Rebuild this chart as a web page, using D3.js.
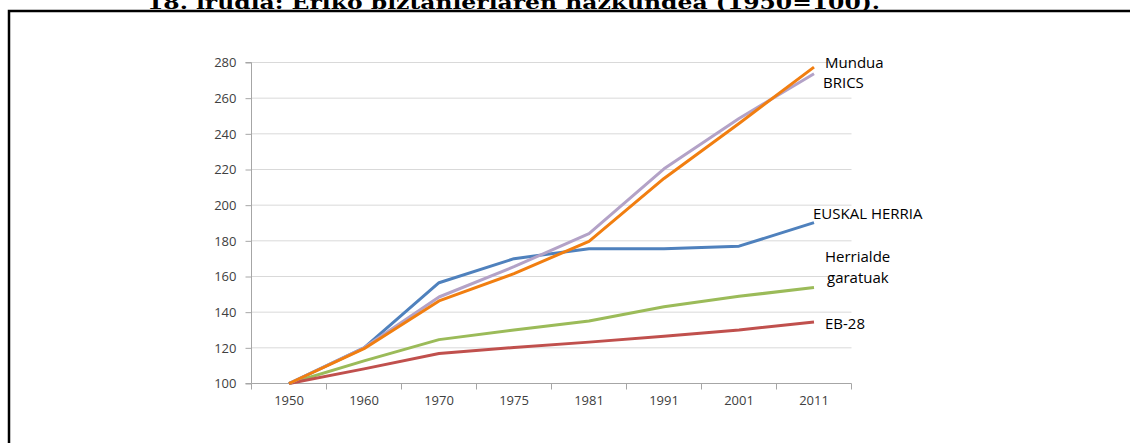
<!DOCTYPE html>
<html><head><meta charset="utf-8">
<script src="https://cdn.jsdelivr.net/npm/d3@7"></script>
<style>html,body{margin:0;padding:0;background:#fff;overflow:hidden}</style>
</head><body>
<svg id="c" width="1130" height="443"></svg>
<script>
const categories = ["1950","1960","1970","1975","1981","1991","2001","2011"];
const euskalHerria = [100,120,156.5,170,175.6,175.6,177,190.2];
const mundua       = [100,119.5,146.3,161.6,179.7,215,245.8,277.4];
const brics        = [100,120,148.5,165.5,184,220.4,248.6,273.7];
const garatuak     = [100,112.7,124.6,130,135,143,148.9,153.8];
const eb28         = [100,108.2,116.8,120.2,123.2,126.5,130,134.5];
const yTicks = [100,120,140,160,180,200,220,240,260,280];

const series = [
  {name:"Herrialde garatuak", values:garatuak, color:"#9BBB59"},
  {name:"EB-28", values:eb28, color:"#C0504D"},
  {name:"EUSKAL HERRIA", values:euskalHerria, color:"#4F81BD"},
  {name:"BRICS", values:brics, color:"#B3A2C7"},
  {name:"Mundua", values:mundua, color:"#F17E10"}
];

const svg = d3.select("#c");
// title
svg.append("text").attr("x",147).attr("y",8.5)
  .attr("textLength",733).attr("lengthAdjust","spacingAndGlyphs")
  .style("font-family","'DejaVu Serif', 'Liberation Serif', serif")
  .style("font-weight","bold").style("font-size","19px").attr("fill","#000")
  .text("18. irudia: Eriko biztanleriaren hazkundea (1950=100).");
// frame
svg.append("path").attr("d","M9,443 L9,11 L1130,11").attr("fill","none")
  .attr("stroke","#000").attr("stroke-width",2.5);

const x = d3.scaleBand().domain(categories).range([251.5,851.5]).paddingInner(0).paddingOuter(0);
const y = d3.scaleLinear().domain([100,280]).range([383.5,62.5]);

const g = svg.append("g");
// gridlines
g.selectAll(".grid").data(yTicks.filter(d=>d>100)).join("line")
  .attr("x1",251.5).attr("x2",851.5).attr("y1",d=>y(d)).attr("y2",d=>y(d))
  .attr("stroke","#D9D9D9").attr("stroke-width",1);

// y axis
const ya = g.append("g").attr("transform","translate(251.5,0)")
  .call(d3.axisLeft(y).tickValues(yTicks).tickSize(6).tickPadding(9));
ya.select(".domain").attr("stroke","#A6A6A6").attr("d","M-6,383.5H0V62.5H-6");
ya.selectAll(".tick line").attr("stroke","#A6A6A6");
ya.selectAll("text").style("font-family","'Open Sans', 'Liberation Sans', sans-serif")
  .style("font-size","13px").attr("fill","#404040");

// x axis
const xa = g.append("g").attr("transform","translate(0,383.5)")
  .call(d3.axisBottom(x).tickSize(0).tickPadding(12));
xa.select(".domain").attr("stroke","#A6A6A6").attr("d","M251.5,0H851.5");
xa.selectAll("text").style("font-family","'Open Sans', 'Liberation Sans', sans-serif")
  .style("font-size","13px").attr("fill","#404040");
g.selectAll(".xt").data(categories.concat(["end"])).join("line")
  .attr("x1",(d,i)=>251.5+i*x.step()).attr("x2",(d,i)=>251.5+i*x.step())
  .attr("y1",383.5).attr("y2",389.5).attr("stroke","#A6A6A6");

// lines
const line = d3.line().x((d,i)=>x(categories[i])+x.bandwidth()/2).y(d=>y(d));
g.selectAll(".ser").data(series).join("path")
  .attr("d",d=>line(d.values)).attr("fill","none")
  .attr("stroke",d=>d.color).attr("stroke-width",3).attr("stroke-linejoin","round");

// labels
const labels = [
  {t:"Mundua", x:825, y:62.5},
  {t:"BRICS", x:823, y:82.5},
  {t:"EUSKAL HERRIA", x:813, y:214},
  {t:"Herrialde", x:825, y:257},
  {t:"garatuak", x:827, y:278},
  {t:"EB-28", x:825, y:323.5}
];
g.selectAll(".lbl").data(labels).join("text")
  .attr("x",d=>d.x).attr("y",d=>d.y).attr("dy","0.35em")
  .style("font-family","'Open Sans', 'Liberation Sans', sans-serif")
  .style("font-size","15px").attr("fill","#000").text(d=>d.t);
</script>
</body></html>
